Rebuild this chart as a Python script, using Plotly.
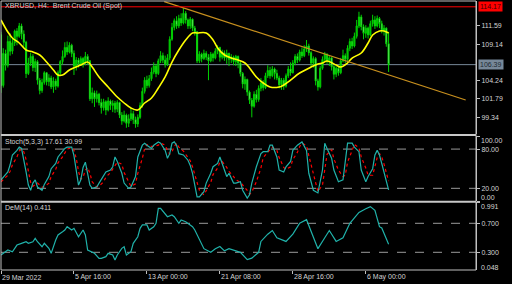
import plotly.graph_objects as go

# ---------------- data ----------------
first_open = 110.4
closes = [
103.6,107.9,106.3,109.5,108.2,109.3,110.9,110.2,111.6,110.5,
109.4,105.2,106.6,107.5,106.0,106.8,104.3,102.9,104.0,105.3,
104.1,104.6,103.4,104.2,103.5,105.3,106.8,107.5,108.7,108.1,
109.0,107.9,106.2,107.0,106.5,107.2,106.6,107.5,106.9,101.8,
102.6,101.8,102.4,101.3,100.6,101.4,100.3,101.5,100.9,101.2,
100.4,101.3,99.6,98.8,99.6,98.5,99.1,99.8,99.0,98.4,
99.3,100.9,102.8,104.3,103.6,104.5,105.4,106.2,105.2,106.9,
107.6,107.0,106.4,107.3,109.8,111.4,112.3,111.6,112.6,112.0,
113.3,112.4,111.6,112.5,111.3,110.8,106.9,107.8,107.2,107.9,
107.4,106.9,107.8,107.3,108.2,108.7,107.4,108.0,107.3,107.9,
107.1,107.4,106.8,107.5,106.6,105.2,103.8,104.4,102.7,101.6,
100.8,102.4,101.7,103.2,103.9,103.3,104.9,105.6,104.9,105.8,
105.2,104.6,103.7,104.3,103.5,104.9,105.8,105.3,106.6,107.5,
107.0,108.1,107.6,108.5,108.9,108.0,106.6,107.2,104.2,103.4,
105.9,107.1,107.8,106.9,107.3,106.1,105.1,105.9,105.3,106.9,
107.6,107.1,108.6,109.5,108.9,110.2,111.6,112.8,111.5,110.6,
111.3,110.4,111.9,112.4,111.6,112.6,111.9,111.0,111.3,109.2,
106.39]
highs = [
110.8,108.6,108.4,110.3,110.6,109.9,111.1,111.3,112.0,111.9,
111.0,109.6,107.3,108.0,107.8,107.2,107.0,104.6,104.5,105.5,
105.4,105.1,104.9,104.7,104.5,105.6,107.0,108.3,109.4,109.5,
109.4,109.2,108.3,107.4,107.3,107.5,107.4,108.1,107.8,107.0,
103.3,102.9,102.9,102.6,101.8,101.8,101.6,102.0,101.7,101.6,
101.5,101.6,101.4,100.0,100.2,99.8,99.7,100.5,100.2,99.4,
99.7,101.3,103.3,104.7,104.9,105.0,106.0,106.7,106.5,107.2,
108.2,108.0,107.6,107.8,110.2,112.0,112.6,112.9,113.1,113.3,
114.0,113.6,112.6,112.8,112.6,111.6,110.9,108.2,108.0,108.4,
108.2,107.8,108.1,108.0,108.6,109.0,108.8,108.4,108.3,108.4,
108.0,107.8,107.6,107.7,107.6,106.8,105.4,104.8,104.5,102.9,
101.9,102.8,103.0,103.6,104.6,104.3,105.3,106.3,106.1,106.2,
106.0,105.7,104.9,104.6,104.6,105.2,106.2,106.7,107.0,107.8,
107.9,108.4,108.7,109.0,109.7,109.2,108.2,107.5,107.4,104.5,
106.2,107.5,108.1,107.9,107.6,107.4,106.3,106.2,106.2,107.3,
108.4,107.9,109.0,109.9,110.0,110.7,112.4,113.5,113.1,111.8,
111.7,111.5,112.3,113.1,112.9,113.0,112.8,112.3,111.7,111.4,
110.8]
lows = [
102.6,103.3,105.6,106.0,107.6,107.8,108.9,109.0,110.0,109.8,
108.8,104.6,105.0,106.2,105.5,105.4,103.7,102.4,102.6,103.7,
103.6,103.5,103.1,102.6,103.0,103.3,105.0,106.4,107.3,107.7,
107.9,107.4,105.0,105.6,106.0,106.2,106.0,106.3,106.4,101.5,
101.2,100.7,101.3,100.9,99.8,100.2,99.6,100.1,100.3,100.0,
99.9,100.0,99.2,98.3,98.6,97.9,98.0,98.8,98.4,97.9,
98.0,99.1,100.6,102.5,103.2,103.3,104.2,105.1,104.7,105.0,
106.6,106.6,106.0,106.2,107.0,109.6,111.0,111.2,111.3,111.6,
111.8,111.9,111.2,111.2,110.9,110.3,106.6,106.6,106.7,107.0,
107.0,104.3,106.7,106.8,107.1,107.8,106.8,107.1,106.9,106.5,
106.2,106.6,106.3,106.2,105.9,104.8,103.2,103.0,102.2,101.1,
99.3,100.6,101.3,101.4,102.8,102.9,103.1,104.6,104.5,104.7,
104.4,104.3,103.2,103.0,103.0,103.3,104.6,104.9,105.2,106.3,
106.6,106.8,107.3,107.4,108.1,107.6,106.1,106.0,103.6,102.9,
103.2,105.7,106.8,106.5,106.2,105.6,104.4,104.7,104.9,105.1,
106.7,106.6,106.9,108.2,108.5,108.7,109.9,111.3,111.0,109.8,
110.0,109.9,110.2,111.5,111.2,111.4,111.3,110.6,110.3,108.8,
105.4]
opens = [first_open] + closes[:-1]
bars = list(range(len(closes)))

ma_bars = [0,3,5,8,11,14,17,20,23,25,27,30,35,38,40,43,47,51,54,57,60,63,66,69,72,75,78,81,84,86,
           90,93,95,98,101,104,107,109,112,115,118,122,124,127,131,136,139,141,143,147,149,152,154,158,161,163,166,168,170]
ma_vals = [112.40,110.78,109.98,109.30,108.36,108.09,107.69,106.74,105.67,104.99,104.99,105.67,106.34,106.74,106.07,
           104.73,103.38,102.03,101.23,100.55,100.28,101.23,101.90,103.24,104.73,106.74,108.36,109.71,110.65,110.65,
           110.65,109.71,108.63,107.69,107.28,107.01,106.61,105.94,104.73,103.92,103.38,103.38,103.65,104.32,105.26,
           106.07,106.48,106.61,106.88,106.34,106.07,106.61,107.28,107.96,109.30,110.38,110.92,110.92,110.65]

stoch_bars = [0,2,3,4,5,7,8,9,10,11, 12,13,14,15,16,18,19,21,22,24, 25,27,28,29,31,32,33,34,35,36,
              37,38,39,40,42,43,45,46,48,49, 50,51,53,54,56,57,59,60,62,63, 64,66,67,69,70,72,73,74,75,76,
              77,78,80,82,83,84,86,87,89,90, 92,93,95,96,97,99,100,102,103,105, 106,108,109,110,112,114,115,117,118,119,
              121,122,124,125,127,128,130,131,132,134, 135,137,138,139,141,142,143,145,146,148,
              150,151,152,154,155,157,158,160,161,163, 164,165,166,167,168,170]
stoch_main = [33,40,45,56,71,78,83,81,65,45, 25,17,28,33,22,17,26,38,50,58, 68,76,81,83,83,70,45,25,33,52,
              60,45,25,20,22,28,38,45,48,53, 68,61,43,28,20,22,38,68,86,89, 86,81,86,91,89,78,66,73,89,91,
              86,73,71,63,55,43,7,7,15,28, 43,53,58,68,58,38,43,28,28,30, 17,5,10,28,53,73,76,76,86,86,
              68,48,45,53,61,78,86,89,91,78, 43,17,15,13,48,89,81,66,48,30,
              33,58,89,89,83,76,48,30,38,50, 71,78,71,58,43,17.61]
stoch_signal = [30,36,40,46,56,68,77,80,76,64, 45,29,23,26,28,22,22,28,38,49, 59,68,75,80,82,78,66,46,34,37,
                48,52,43,30,22,23,30,37,44,49, 56,60,57,44,30,23,27,43,66,81, 87,84,84,86,89,86,78,72,76,84,
                89,83,77,68,62,53,30,17,10,17, 29,41,51,60,61,52,46,38,33,29, 25,17,11,14,30,51,67,75,79,83,
                78,67,52,49,53,64,75,84,89,85, 70,44,27,15,25,50,72,79,65,48,
                38,40,60,78,87,82,68,51,40,40, 53,67,73,68,57,30.99]

dem_bars = [0,2,3,5,6,7,9,11,12,14, 15,16,18,19,21,22,24,25,27,28, 29,31,32,34,36,37,38,40,41,43,
            44,46,47,49,50,51,53,54,55,57, 58,60,61,62,64,65,67,68,69,70, 72,73,75,76,78,79,81,82,84,85,
            86,89,92,94,96,98,100,105,108,110, 113,114,117,119,121,125,128,131,134,136,
            139,142,144,147,150,153,157,160,162,164, 166,167,168,170]
dem_vals = [.263,.308,.332,.308,.355,.40,.424,.446,.424,.446, .493,.446,.377,.424,.355,.286,.47,.539,.584,.608,
            .653,.608,.631,.515,.608,.539,.332,.308,.286,.217, .217,.24,.286,.263,.194,.263,.355,.377,.263,.308,
            .424,.515,.631,.677,.677,.608,.653,.70,.907,.907, .838,.791,.815,.791,.70,.745,.722,.70,.653,.608,
            .539,.35,.30,.35,.38,.32,.35,.30,.20,.22, .30,.45,.55,.60,.50,.45,.55,.70,.75,.60,
            .35,.50,.60,.45,.50,.70,.85,.90,.93,.88, .653,.635,.566,.411]

resistance_level = 114.17
bid_price = 106.39
trend_bars = [71.6, 203.8]
trend_prices = [114.86, 101.63]
price_ticks = [111.59, 109.14, 104.24, 101.79, 99.34]
time_tick_bars = [0, 32, 64, 96, 128, 160]
time_tick_labels = ["29 Mar 2022", "5 Apr 16:00", "13 Apr 00:00", "21 Apr 08:00", "28 Apr 16:00", "6 May 00:00"]
title_text = "XBRUSD,\u00a0H4:\u00a0\u00a0Brent Crude Oil (Spot)"
stoch_text = "Stoch(5,3,3) 17.61 30.99"
dem_text = "DeM(14) 0.411"

# ---------------- layout helpers ----------------
W, H = 512, 284
ML, MR, MT, MB = 1, 36, 1, 14
PH = H - MT - MB
PW = W - ML - MR
def py(p):  # pixel y -> paper
    return (H - MB - p) / PH
def px(p):
    return (p - ML) / PW

FONT = "Liberation Sans, Arial, sans-serif"
TXT = "#d4d4d4"
AX = "#c0c0c0"

fig = go.Figure()
fig.add_trace(go.Candlestick(
    x=bars, open=opens, high=highs, low=lows, close=closes,
    increasing=dict(line=dict(color="#00d200", width=1), fillcolor="#00b400"),
    decreasing=dict(line=dict(color="#00d200", width=1), fillcolor="#e8ffe8"),
    whiskerwidth=0, hoverinfo="skip", showlegend=False, xaxis="x", yaxis="y"))
fig.add_trace(go.Scatter(x=ma_bars, y=ma_vals, mode="lines", line=dict(color="#ffff00", width=1.6, shape="spline"),
                         hoverinfo="skip", showlegend=False, yaxis="y"))
fig.add_trace(go.Scatter(x=trend_bars, y=trend_prices, mode="lines", line=dict(color="#c8901e", width=1.2),
                         hoverinfo="skip", showlegend=False, yaxis="y", cliponaxis=True))
fig.add_trace(go.Scatter(x=stoch_bars, y=stoch_signal, mode="lines", line=dict(color="#ff0000", width=1.2, dash="dot"),
                         hoverinfo="skip", showlegend=False, yaxis="y2"))
fig.add_trace(go.Scatter(x=stoch_bars, y=stoch_main, mode="lines", line=dict(color="#20b2aa", width=1.2),
                         hoverinfo="skip", showlegend=False, yaxis="y2"))
fig.add_trace(go.Scatter(x=dem_bars, y=dem_vals, mode="lines", line=dict(color="#20b2aa", width=1.2),
                         hoverinfo="skip", showlegend=False, yaxis="y3"))

shapes = []
shapes.append(dict(type="line", xref="paper", x0=0, x1=1, yref="y", y0=resistance_level, y1=resistance_level,
                   line=dict(color="#ff0000", width=1)))
shapes.append(dict(type="line", xref="paper", x0=0, x1=1, yref="y", y0=bid_price, y1=bid_price,
                   line=dict(color="#778899", width=1), layer="below"))
for lv in (80, 20):
    shapes.append(dict(type="line", xref="paper", x0=0, x1=1, yref="y2", y0=lv, y1=lv,
                       line=dict(color="#9a9a9a", width=1, dash="dash"), layer="below"))
for lv in (0.7, 0.3):
    shapes.append(dict(type="line", xref="paper", x0=0, x1=1, yref="y3", y0=lv, y1=lv,
                       line=dict(color="#9a9a9a", width=1, dash="dash"), layer="below"))
for sep in (135.0, 201.7):
    shapes.append(dict(type="line", xref="paper", x0=0, x1=1, yref="paper", y0=py(sep), y1=py(sep),
                       line=dict(color="#c8c8c8", width=2)))
shapes.append(dict(type="rect", xref="paper", yref="paper", x0=0, x1=1, y0=0, y1=1,
                   line=dict(color=AX, width=1)))

ann = []
def label(x, y, text, xanchor="left", **kw):
    d = dict(xref="paper", yref="paper", x=x, y=y, text=text, showarrow=False, xanchor=xanchor,
             yanchor="middle", font=dict(family=FONT, size=7, color=kw.pop("color", TXT)))
    d.update(kw)
    ann.append(d)

label(px(3), py(6), title_text)
label(px(3), py(142), stoch_text)
label(px(3), py(208), dem_text)
for b, t in zip(time_tick_bars, time_tick_labels):
    ann.append(dict(xref="x", yref="paper", x=b, y=py(277), text=t, showarrow=False, xanchor="left",
                    yanchor="middle", font=dict(family=FONT, size=7, color=TXT), xshift=-1))
label(1, py(140), "100.00", xshift=3)
label(1, py(197), "0.00", xshift=3)
label(1, py(206.5), "0.991", xshift=3)
label(1, py(267), "0.048", xshift=3)
ann.append(dict(xref="paper", yref="y", x=1, y=resistance_level, text="114.17", showarrow=False, xanchor="left",
                yanchor="middle", xshift=2, bgcolor="#ff0000", borderpad=1,
                font=dict(family=FONT, size=7, color="#400000")))
ann.append(dict(xref="paper", yref="y", x=1, y=bid_price, text="106.39", showarrow=False, xanchor="left",
                yanchor="middle", xshift=2, bgcolor="#778899", borderpad=1,
                font=dict(family=FONT, size=7, color="#202830")))

yax_common = dict(side="right", anchor="x", showgrid=False, zeroline=False, showline=True, linecolor=AX,
                  ticks="outside", ticklen=3, tickcolor=AX, tickfont=dict(family=FONT, size=7, color=TXT),
                  fixedrange=True)

fig.update_layout(
    width=W, height=H, margin=dict(l=ML, r=MR, t=MT, b=MB),
    paper_bgcolor="#000000", plot_bgcolor="#000000",
    hovermode=False, showlegend=False,
    xaxis=dict(range=[0, PW / 2.28], anchor="y3", showgrid=False, zeroline=False, showline=False,
               tickmode="array", tickvals=time_tick_bars, ticktext=[""] * len(time_tick_bars),
               ticks="outside", ticklen=3, tickcolor=AX, rangeslider=dict(visible=False), fixedrange=True),
    yaxis=dict(domain=[py(134), 1], range=[97.06, 114.95], tickmode="array", tickvals=price_ticks,
               ticktext=[f"{v:.2f}" for v in price_ticks], **yax_common),
    yaxis2=dict(domain=[py(201.4), py(136)], range=[0, 100], tickmode="array", tickvals=[100, 80, 20, 0],
                ticktext=["", "80.00", "20.00", ""], **yax_common),
    yaxis3=dict(domain=[0, py(202.2)], range=[0.056, 0.991], tickmode="array", tickvals=[0.991, 0.7, 0.3, 0.048],
                ticktext=["", "0.700", "0.300", ""], **yax_common),
    shapes=shapes, annotations=ann,
)
fig.write_html("out.html")
